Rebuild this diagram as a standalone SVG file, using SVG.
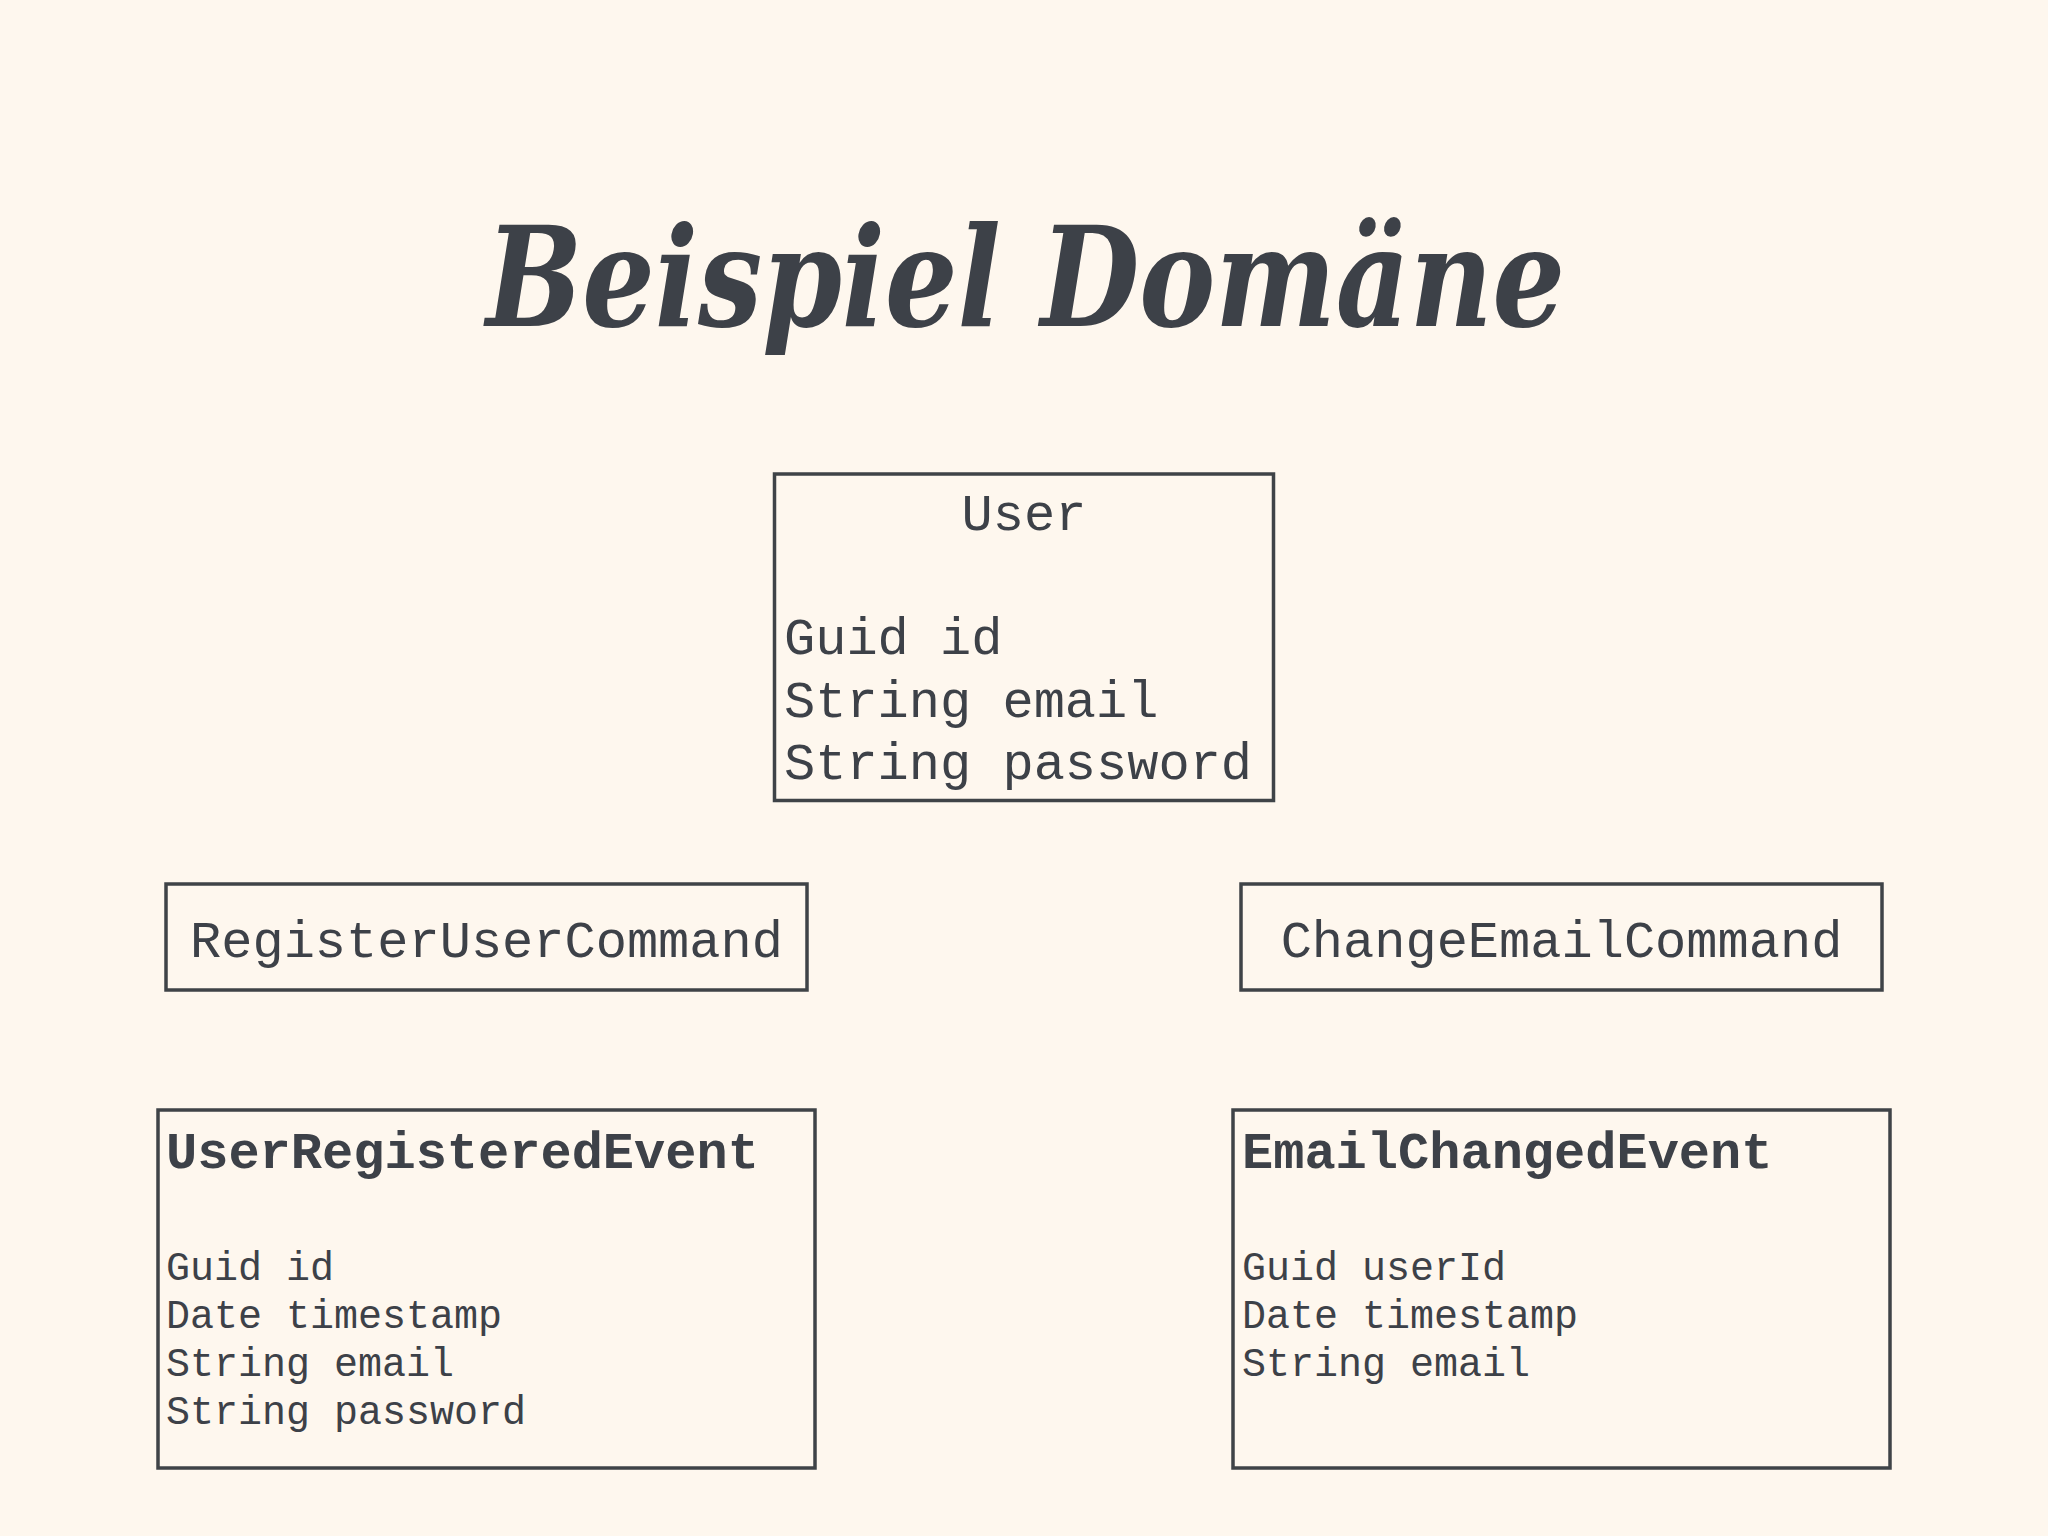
<svg xmlns="http://www.w3.org/2000/svg" width="2048" height="1536" viewBox="0 0 2048 1536">
  <style>
    .bg { fill: #fef7ee; }
    .box { fill: #fef7ee; stroke: #3f4347; stroke-width: 3.5; }
    .title { font-family: "DejaVu Serif Condensed", "DejaVu Serif", serif; font-weight: bold; font-style: italic; font-size: 138px; fill: #3d4148; }
    .mono { font-family: "Liberation Mono", "DejaVu Sans Mono", monospace; fill: #3d4148; }
    .big { font-size: 52px; }
    .small { font-size: 40px; }
    .bold { font-weight: bold; }
    .mid { text-anchor: middle; }
  </style>
  <rect class="bg" x="0" y="0" width="2048" height="1536"/>
  <text class="title" x="486" y="326" textLength="1079" lengthAdjust="spacingAndGlyphs">Beispiel Domäne</text>
  <g id="connectors"></g>
  <g id="user">
    <rect class="box" x="774.5" y="474" width="499" height="326.5"/>
    <text class="mono big mid" x="1024" y="530">User</text>
    <text class="mono big" x="784" y="654">Guid id</text>
    <text class="mono big" x="784" y="716.5">String email</text>
    <text class="mono big" x="784" y="779">String password</text>
  </g>
  <g id="registerUserCommand">
    <rect class="box" x="166" y="884" width="641" height="106"/>
    <text class="mono big mid" x="486.5" y="957">RegisterUserCommand</text>
  </g>
  <g id="changeEmailCommand">
    <rect class="box" x="1241" y="884" width="641" height="106"/>
    <text class="mono big mid" x="1561.5" y="957">ChangeEmailCommand</text>
  </g>
  <g id="userRegisteredEvent">
    <rect class="box" x="158" y="1110" width="657" height="358"/>
    <text class="mono big bold" x="166" y="1168">UserRegisteredEvent</text>
    <text class="mono small" x="166" y="1280">Guid id</text>
    <text class="mono small" x="166" y="1328">Date timestamp</text>
    <text class="mono small" x="166" y="1376">String email</text>
    <text class="mono small" x="166" y="1424">String password</text>
  </g>
  <g id="emailChangedEvent">
    <rect class="box" x="1233" y="1110" width="657" height="358"/>
    <text class="mono big bold" x="1242" y="1168">EmailChangedEvent</text>
    <text class="mono small" x="1242" y="1280">Guid userId</text>
    <text class="mono small" x="1242" y="1328">Date timestamp</text>
    <text class="mono small" x="1242" y="1376">String email</text>
  </g>
</svg>
